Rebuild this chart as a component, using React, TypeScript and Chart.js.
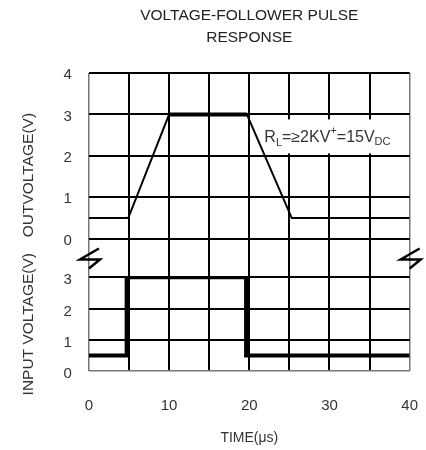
import React, { useEffect, useRef } from "react";
import { Chart, registerables } from "chart.js";

Chart.register(...registerables);

const titleLines = ["VOLTAGE-FOLLOWER PULSE", "RESPONSE"];
const xTitle = "TIME(μs)";
const outTitle = "OUTVOLTAGE(V)";
const inTitle = "INPUT VOLTAGE(V)";

const xGridTicks = [0, 5, 10, 15, 20, 25, 30, 35, 40];
const xLabelTicks = [0, 10, 20, 30, 40];
const outTicks = [0, 1, 2, 3, 4];
const inTicks = [0, 1, 2, 3];

const outTimes = [0, 4.9, 10, 19.7, 25.3, 40];
const outVolts = [0.5, 0.5, 3, 3, 0.5, 0.5];
const inTimes = [0, 4.7, 4.7, 19.6, 19.6, 40];
const inVolts = [0.5, 0.5, 3, 3, 0.5, 0.5];

const FONT = "'Liberation Sans', Arial, sans-serif";
const TXT = "#333333";

const breakPlugin = {
  id: "breakMarks",
  afterDraw(chart: any) {
    const { ctx, chartArea, scales } = chart;
    const cy = scales.yOut.getPixelForValue(-0.5);
    ctx.save();
    ctx.strokeStyle = "#000";
    ctx.lineWidth = 2.5;
    ctx.lineJoin = "miter";
    for (const bx of [chartArea.left, chartArea.right]) {
      ctx.beginPath();
      ctx.moveTo(bx + 10, cy - 11);
      ctx.lineTo(bx - 9, cy);
      ctx.lineTo(bx + 11, cy);
      ctx.lineTo(bx, cy + 9);
      ctx.stroke();
    }
    ctx.restore();
  },
};

const notePlugin = {
  id: "noteBox",
  beforeDatasetsDraw(chart: any) {
    const { ctx, scales } = chart;
    const x0 = scales.x.getPixelForValue(21.25);
    const x1 = scales.x.getPixelForValue(40) - 1;
    const y0 = scales.yOut.getPixelForValue(2.88);
    const y1 = scales.yOut.getPixelForValue(2.06);
    ctx.save();
    ctx.fillStyle = "#fff";
    ctx.fillRect(x0, y0, x1 - x0, y1 - y0);
    ctx.fillStyle = TXT;
    ctx.textBaseline = "alphabetic";
    ctx.textAlign = "left";
    const base = y0 + 23;
    let x = x0 + 5;
    const big = `16px ${FONT}`;
    const small = `11px ${FONT}`;
    const parts: [string, string, number][] = [
      ["R", big, 0],
      ["L", small, 4],
      ["=≥2KV", big, 0],
      ["+", small, -8],
      ["=15V", big, 0],
      ["DC", small, 3],
    ];
    for (const [t, f, dy] of parts) {
      ctx.font = f;
      ctx.fillText(t, x, base + dy);
      x += ctx.measureText(t).width;
    }
    ctx.restore();
  },
};

export default function App() {
  const ref = useRef<HTMLCanvasElement | null>(null);
  useEffect(() => {
    if (!ref.current) return;
    const outData = outTimes.map((t, i) => ({ x: t, y: outVolts[i] }));
    const inData = inTimes.map((t, i) => ({ x: t, y: inVolts[i] }));
    const tickFont = { family: FONT, size: 15 };
    const chart = new Chart(ref.current, {
      type: "line",
      data: {
        datasets: [
          {
            label: "Output",
            data: outData,
            yAxisID: "yOut",
            borderColor: "#000",
            borderWidth: 2,
            pointRadius: 0,
            borderJoinStyle: "miter",
            segment: {
              borderWidth: (c: any) =>
                c.p0.parsed.y === c.p1.parsed.y && c.p0.parsed.y === 3 ? 4 : 2,
            },
          },
          {
            label: "Input",
            data: inData,
            yAxisID: "yIn",
            borderColor: "#000",
            borderWidth: 4,
            pointRadius: 0,
            borderJoinStyle: "miter",
          },
        ],
      },
      options: {
        animation: false,
        responsive: true,
        maintainAspectRatio: false,
        layout: { padding: { left: 15, right: 16, top: 0, bottom: 0 } },
        plugins: {
          legend: { display: false },
          tooltip: { enabled: false },
          title: {
            display: true,
            text: titleLines,
            fullSize: false,
            color: "#222",
            font: { family: FONT, size: 15.5, weight: "normal", lineHeight: 22 / 15.5 },
            padding: { top: 5, bottom: 24 },
          },
        },
        scales: {
          x: {
            type: "linear",
            min: 0,
            max: 40,
            afterBuildTicks: (s: any) => {
              s.ticks = xGridTicks.map((v) => ({ value: v }));
            },
            border: { display: false },
            grid: {
              drawTicks: false,
              color: (c: any) =>
                c.tick && (c.tick.value === 0 || c.tick.value === 40) ? "#777" : "#000",
              lineWidth: (c: any) =>
                c.tick && (c.tick.value === 0 || c.tick.value === 40) ? 1.5 : 2,
            },
            ticks: {
              padding: 8,
              color: TXT,
              font: tickFont,
              autoSkip: false,
              maxRotation: 0,
              callback: (v: any) => (xLabelTicks.includes(v) ? ["", String(v)] : ""),
            },
            title: {
              display: true,
              text: xTitle,
              color: TXT,
              font: { family: FONT, size: 14 },
              padding: { top: 7, bottom: 3 },
            },
          },
          yIn: {
            type: "linear",
            position: "left",
            stack: "v",
            stackWeight: 93,
            min: 0,
            max: 3,
            afterBuildTicks: (s: any) => {
              s.ticks = inTicks.map((v) => ({ value: v }));
            },
            border: { display: false },
            grid: {
              drawTicks: false,
              color: (c: any) => (c.tick && c.tick.value === 0 ? "#777" : "#000"),
              lineWidth: (c: any) => (c.tick && c.tick.value === 0 ? 1.5 : 2),
            },
            ticks: { padding: 17, color: TXT, font: tickFont, labelOffset: 3 },
            title: {
              display: true,
              text: inTitle,
              color: TXT,
              font: { family: FONT, size: 15.5 },
              padding: { top: 4, bottom: 9 },
            },
          },
          yOut: {
            type: "linear",
            position: "left",
            stack: "v",
            stackWeight: 202,
            min: -0.927,
            max: 4,
            afterBuildTicks: (s: any) => {
              s.ticks = outTicks.map((v) => ({ value: v }));
            },
            border: { display: false },
            grid: { drawTicks: false, color: "#000", lineWidth: 2 },
            ticks: { padding: 17, color: TXT, font: tickFont, labelOffset: 2 },
            title: {
              display: true,
              text: outTitle,
              color: TXT,
              font: { family: FONT, size: 15.5 },
              padding: { top: 4, bottom: 9 },
            },
          },
        },
      } as any,
      plugins: [notePlugin, breakPlugin],
    });
    return () => chart.destroy();
  }, []);
  return (
    <div style={{ position: "absolute", left: 0, top: 0, width: 426, height: 450 }}>
      <canvas ref={ref} />
    </div>
  );
}
